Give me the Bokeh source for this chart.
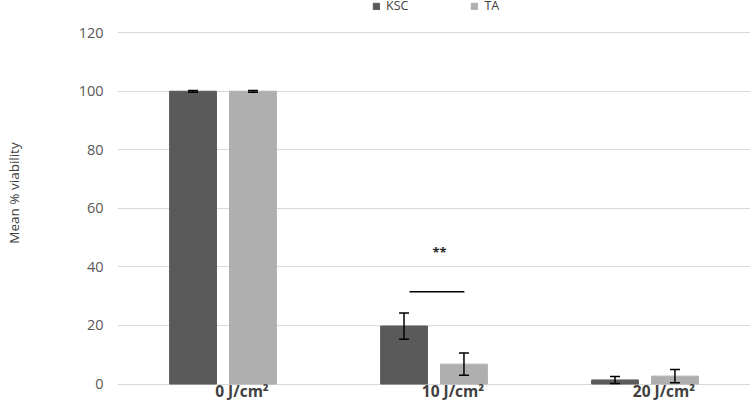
import numpy as np
from bokeh.plotting import figure
from bokeh.models import (ColumnDataSource, Range1d, Whisker, TeeHead, Legend, LegendItem,
                          FixedTicker, Label, CustomJSTickFormatter)
from bokeh.embed import file_html
from bokeh.resources import INLINE

# ---- data ----
categories = ["0 J/cm\u00b2", "10 J/cm\u00b2", "20 J/cm\u00b2"]
series_names = ["KSC", "TA"]
ksc_values = [100.0, 19.8, 1.4]
ksc_errors = [0.3, 4.5, 1.2]
ta_values = [100.0, 6.8, 2.7]
ta_errors = [0.3, 3.8, 2.3]
y_ticks = [0, 20, 40, 60, 80, 100, 120]
sig_category = 1
sig_level = 31.5
sig_star_level = 45.0
sig_text = "**"

# ---- styles ----
KSC_COLOR = "#5a5a5a"
TA_COLOR = "#afafaf"
TEXT_COLOR = "#595959"
FONT = "Open Sans"
BAR_OFFSET = 0.142
BAR_WIDTH = 0.222
LABEL_SHIFT = 0.09

idx = np.arange(len(categories))

p = figure(width=750, height=404, output_backend="svg", toolbar_location=None,
           x_range=Range1d(-0.5, 2.5), y_range=Range1d(-0.5, 131.0),
           min_border_left=117, min_border_right=0, min_border_top=0, min_border_bottom=10)
p.outline_line_color = None
p.xgrid.visible = False

xax = p.xaxis[0]
xax.ticker = FixedTicker(ticks=list(idx + LABEL_SHIFT))
xax.formatter = CustomJSTickFormatter(args=dict(labels=categories), code="return labels[index];")
xax.axis_line_color = None
xax.major_tick_line_color = None
xax.minor_tick_line_color = None
xax.major_tick_out = 0
xax.major_tick_in = 0
xax.major_label_standoff = -6
xax.major_label_text_font = FONT
xax.major_label_text_font_size = "15.5px"
xax.major_label_text_font_style = "bold"
xax.major_label_text_color = "#404040"

yax = p.yaxis[0]
yax.ticker = FixedTicker(ticks=y_ticks)
yax.axis_line_color = None
yax.major_tick_line_color = None
yax.minor_tick_line_color = None
yax.major_tick_out = 0
yax.major_tick_in = 0
yax.major_label_standoff = 14
yax.major_label_text_font = FONT
yax.major_label_text_font_size = "14.5px"
yax.major_label_text_color = TEXT_COLOR
yax.axis_label = "Mean % viability"
yax.axis_label_text_font = FONT
yax.axis_label_text_font_size = "13.5px"
yax.axis_label_text_font_style = "normal"
yax.axis_label_text_color = "#404040"
yax.axis_label_standoff = 53
p.ygrid.ticker = FixedTicker(ticks=y_ticks)
p.ygrid.grid_line_color = "#d9d9d9"
p.ygrid.grid_line_width = 1

src_k = ColumnDataSource(dict(x=idx - BAR_OFFSET, top=ksc_values,
                              up=np.array(ksc_values) + np.array(ksc_errors),
                              lo=np.array(ksc_values) - np.array(ksc_errors)))
src_t = ColumnDataSource(dict(x=idx + BAR_OFFSET, top=ta_values,
                              up=np.array(ta_values) + np.array(ta_errors),
                              lo=np.array(ta_values) - np.array(ta_errors)))

rk = p.vbar(x="x", top="top", width=BAR_WIDTH, source=src_k, fill_color=KSC_COLOR, line_color=KSC_COLOR)
rt = p.vbar(x="x", top="top", width=BAR_WIDTH, source=src_t, fill_color=TA_COLOR, line_color=TA_COLOR)

for src in (src_k, src_t):
    w = Whisker(base="x", upper="up", lower="lo", source=src, line_color="black", line_width=1.5,
                upper_head=TeeHead(size=10, line_width=1.5, line_color="black"),
                lower_head=TeeHead(size=10, line_width=1.5, line_color="black"),
                level="overlay")
    p.add_layout(w)

# significance marker
p.segment(x0=[sig_category - 0.116], x1=[sig_category + 0.144], y0=[sig_level], y1=[sig_level],
          line_color="black", line_width=1.5)
p.add_layout(Label(x=sig_category + 0.026, y=sig_star_level, text=sig_text, text_align="center",
                   text_baseline="middle", text_font=FONT, text_font_size="13px",
                   text_font_style="bold", text_color="#262626"))

legend = Legend(items=[LegendItem(label=series_names[0], renderers=[rk]),
                       LegendItem(label=series_names[1], renderers=[rt])],
                orientation="horizontal", location=(255, 371))
legend.border_line_color = None
legend.background_fill_alpha = 0
legend.padding = 0
legend.margin = 0
legend.spacing = 62
legend.glyph_width = 8
legend.glyph_height = 8
legend.label_standoff = 6
legend.label_text_font = FONT
legend.label_text_font_size = "12.5px"
legend.label_text_color = "#404040"
legend.label_height = 10
p.add_layout(legend, "center")

open("out.html", "w").write(file_html(p, INLINE))
